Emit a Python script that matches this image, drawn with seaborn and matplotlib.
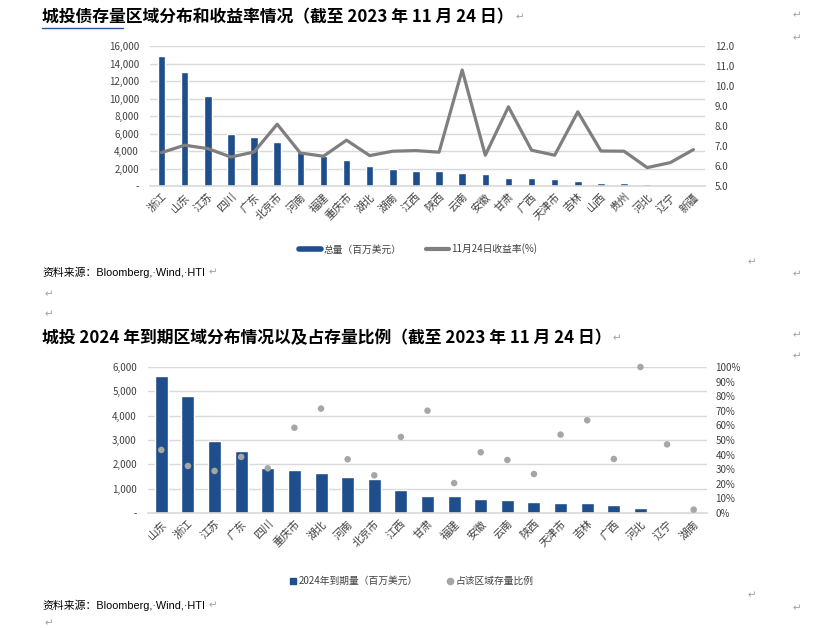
import matplotlib
matplotlib.use('Agg')
import matplotlib.pyplot as plt
import seaborn as sns
import numpy as np
from matplotlib.lines import Line2D
from matplotlib.ticker import FuncFormatter, FixedLocator

sns.set_theme(style='white')
plt.rcParams['font.family'] = ['Noto Sans CJK SC', 'DejaVu Sans']

# ---------------- data ----------------
regions1 = ['浙江', '山东', '江苏', '四川', '广东', '北京市', '河南', '福建', '重庆市', '湖北',
            '湖南', '江西', '陕西', '云南', '安徽', '甘肃', '广西', '天津市', '吉林', '山西',
            '贵州', '河北', '辽宁', '新疆']
stock1 = [14900, 13000, 10250, 5900, 5650, 5050, 3900, 3400, 2950, 2250,
          1950, 1760, 1760, 1500, 1400, 950, 880, 800, 570, 380,
          300, 190, 110, 100]
yield1 = [6.67, 7.04, 6.87, 6.45, 6.70, 8.09, 6.65, 6.49, 7.29, 6.52,
          6.74, 6.77, 6.69, 10.80, 6.54, 8.96, 6.79, 6.54, 8.71, 6.75,
          6.74, 5.92, 6.17, 6.82]

regions2 = ['山东', '浙江', '江苏', '广东', '四川', '重庆市', '湖北', '河南', '北京市', '江西',
            '甘肃', '福建', '安徽', '云南', '陕西', '天津市', '吉林', '广西', '河北', '辽宁', '湖南']
due2 = [5650, 4800, 2960, 2560, 1840, 1750, 1650, 1470, 1380, 950,
        690, 690, 580, 550, 470, 410, 410, 340, 220, 55, 30]
pct2 = [43.2, 32.2, 28.8, 38.4, 30.6, 58.4, 71.5, 36.8, 25.8, 52.1,
        70.1, 20.5, 41.6, 36.3, 26.7, 53.7, 63.5, 37.0, 100.0, 47.0, 2.3]

title1 = '城投债存量区域分布和收益率情况（截至 2023 年 11 月 24 日）'
title2 = '城投 2024 年到期区域分布情况以及占存量比例（截至 2023 年 11 月 24 日）'
legend1 = ['总量（百万美元）', '11月24日收益率(%)']
legend2 = ['2024年到期量（百万美元）', '占该区域存量比例']
source = '资料来源：Bloomberg,·Wind,·HTI'

# ---------------- style ----------------
BLUE = '#1F4E8C'
LGREY = '#7F7F7F'
DGREY = '#A6A6A6'
GRID = '#D9D9D9'
TXT = '#404040'
MARK = '#A0A0A0'

W, H = 816, 628
fig = plt.figure(figsize=(W / 100, H / 100), dpi=100)
fig.patch.set_facecolor('white')


def rect(l, t, r, b):
    return [l / W, 1 - b / H, (r - l) / W, (b - t) / H]


def fx(x):
    return x / W


def fy(y):
    return 1 - y / H


def thousands(v, pos=None):
    return '-' if abs(v) < 1e-9 else f'{int(round(v)):,}'


def style_axes(ax):
    for s in ['top', 'left', 'right']:
        ax.spines[s].set_visible(False)
    ax.spines['bottom'].set_color(GRID)
    ax.spines['bottom'].set_linewidth(1.2)
    ax.tick_params(axis='both', length=0, labelsize=7, colors=TXT)


# ---------------- chart 1 ----------------
ax1 = fig.add_axes(rect(150, 46, 705, 186))
sns.barplot(x=regions1, y=stock1, color=BLUE, saturation=1, width=0.32, ax=ax1)
ax1.set_ylim(0, 16000)
ax1.yaxis.set_major_locator(FixedLocator(np.arange(0, 16001, 2000)))
ax1.yaxis.set_major_formatter(FuncFormatter(thousands))
ax1.yaxis.grid(True, color=GRID, lw=1)
ax1.set_axisbelow(True)
ax1.set_xlabel('')
ax1.set_ylabel('')
style_axes(ax1)
ax1.tick_params(axis='y', pad=8)
plt.setp(ax1.get_xticklabels(), rotation=45, ha='right', rotation_mode='anchor', fontsize=7.8)
ax1.tick_params(axis='x', pad=4)

ax1r = ax1.twinx()
sns.lineplot(x=np.arange(len(yield1)), y=yield1, color=LGREY, lw=2.3, ax=ax1r)
ax1r.set_ylim(5, 12)
ax1r.yaxis.set_major_locator(FixedLocator(np.arange(5, 12.01, 1)))
ax1r.yaxis.set_major_formatter(FuncFormatter(lambda v, p: f'{v:.1f}'))
ax1r.set_ylabel('')
style_axes(ax1r)
ax1r.spines['bottom'].set_visible(False)
ax1r.tick_params(axis='y', pad=7)
ax1r.set_xlim(-0.5, len(regions1) - 0.5)

fig.legend(handles=[Line2D([0], [0], color=BLUE, lw=4), Line2D([0], [0], color=LGREY, lw=3)],
           labels=legend1, loc='center', bbox_to_anchor=(fx(418), fy(249)), ncol=2,
           frameon=False, fontsize=7, handlelength=2.3, columnspacing=2.5, handletextpad=0.3,
           labelcolor=TXT)

# ---------------- chart 2 ----------------
ax2 = fig.add_axes(rect(148, 367, 707, 513))
sns.barplot(x=regions2, y=due2, color=BLUE, saturation=1, width=0.49, ax=ax2)
ax2.set_ylim(0, 6000)
ax2.yaxis.set_major_locator(FixedLocator(np.arange(0, 6001, 1000)))
ax2.yaxis.set_major_formatter(FuncFormatter(thousands))
ax2.yaxis.grid(True, color=GRID, lw=1)
ax2.set_axisbelow(True)
ax2.set_xlabel('')
ax2.set_ylabel('')
style_axes(ax2)
ax2.tick_params(axis='y', pad=8)
plt.setp(ax2.get_xticklabels(), rotation=45, ha='right', rotation_mode='anchor', fontsize=7.8)
ax2.tick_params(axis='x', pad=4)

ax2r = ax2.twinx()
sns.scatterplot(x=np.arange(len(pct2)), y=pct2, color=DGREY, s=22, edgecolor='none', ax=ax2r, zorder=5)
for coll in ax2r.collections:
    coll.set_clip_on(False)
ax2r.set_ylim(0, 100)
ax2r.yaxis.set_major_locator(FixedLocator(np.arange(0, 100.1, 10)))
ax2r.yaxis.set_major_formatter(FuncFormatter(lambda v, p: f'{int(round(v))}%'))
ax2r.set_ylabel('')
style_axes(ax2r)
ax2r.spines['bottom'].set_visible(False)
ax2r.tick_params(axis='y', pad=6)
ax2r.set_xlim(-0.5, len(regions2) - 0.5)

fig.legend(handles=[Line2D([0], [0], marker='s', color=BLUE, ls='none', ms=4),
                    Line2D([0], [0], marker='o', color=DGREY, ls='none', ms=4.5)],
           labels=legend2, loc='center', bbox_to_anchor=(fx(412), fy(581)), ncol=2,
           frameon=False, fontsize=7, handlelength=0.6, columnspacing=3, handletextpad=0.3,
           labelcolor=TXT)

# ---------------- document text ----------------
fig.text(fx(42), fy(17), title1, fontsize=12.1, fontweight='bold', va='center', ha='left', color='black')
fig.text(fx(42), fy(338), title2, fontsize=12.1, fontweight='bold', va='center', ha='left', color='black')
# spell-check style underline under first words of title 1
fig.add_artist(Line2D([fx(42), fx(123)], [fy(28), fy(28)], color='#2F5597', lw=1))

src_family = ['Liberation Sans', 'Noto Sans CJK SC']
fig.text(fx(42), fy(272), source, fontsize=7.8, va='center', ha='left', color='black', family=src_family)
fig.text(fx(42), fy(605), source, fontsize=7.8, va='center', ha='left', color='black', family=src_family)

marks = [(516, 17), (793, 15), (793, 38), (209, 272), (748, 262), (793, 274), (45, 294), (45, 314),
         (613, 338), (793, 335), (793, 356), (209, 605), (748, 595), (793, 608), (45, 623)]
for (mx, my) in marks:
    fig.text(fx(mx), fy(my), '↵', fontsize=7.5, color=MARK, va='center', ha='left',
             family=['DejaVu Sans'])

fig.savefig('out.png', dpi=100, facecolor='white')
